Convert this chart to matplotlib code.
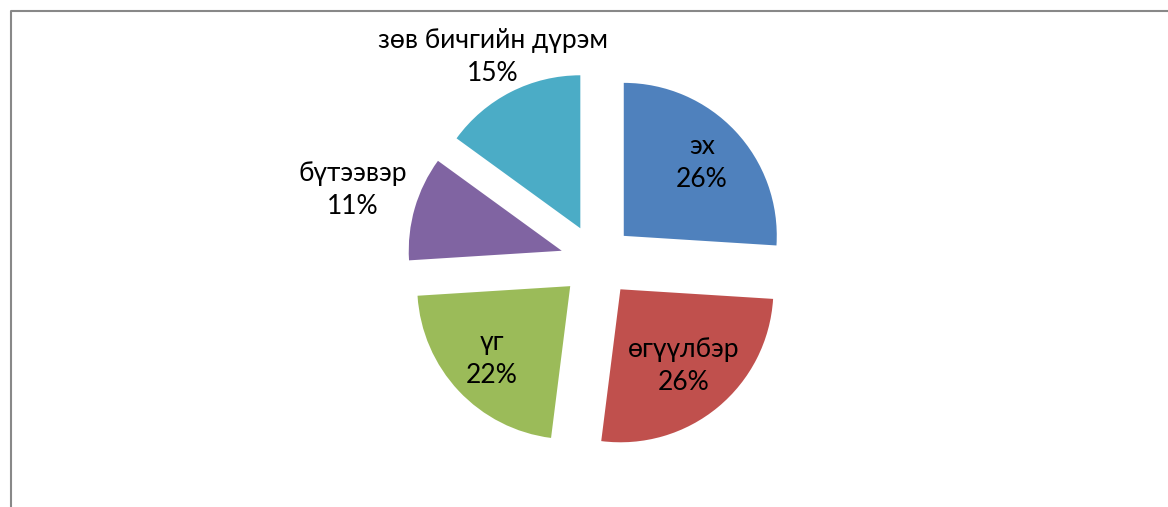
import numpy as np
import matplotlib.pyplot as plt
from matplotlib.lines import Line2D

# Data
categories = ['эх', 'өгүүлбэр', 'үг', 'бүтээвэр', 'зөв бичгийн дүрэм']
shares = [26, 26, 22, 11, 15]
colors = ['#4F81BD', '#C0504D', '#9BBB59', '#8064A2', '#4BACC6']

# label distance from each wedge's own centre, in radii
label_dist = [0.70, 0.65, 0.70, 1.42, 1.26]

W, H = 1168, 507
plt.rcParams['font.family'] = ['Lato', 'Open Sans', 'DejaVu Sans']

fig = plt.figure(figsize=(W / 100, H / 100), dpi=100)
ax = fig.add_axes([0, 0, 1, 1])

radius = 153
wedges, _ = ax.pie(shares, colors=colors, startangle=90, counterclock=False,
                   radius=radius, center=(597, H - 261),
                   explode=[0.24 * radius] * len(shares),
                   wedgeprops=dict(linewidth=0))

for w, name, pct, ld in zip(wedges, categories, shares, label_dist):
    mid = np.deg2rad((w.theta1 + w.theta2) / 2)
    cx, cy = w.center
    ax.text(cx + ld * radius * np.cos(mid), cy + ld * radius * np.sin(mid),
            f'{name}\n{pct}%', ha='center', va='center', fontsize=19,
            linespacing=1.4, color='black')

ax.set_xlim(0, W)
ax.set_ylim(0, H)
ax.set_aspect('auto')
ax.axis('off')

# chart border
fig.add_artist(Line2D([10.5 / W, 10.5 / W, 1], [0, 1 - 10.5 / H, 1 - 10.5 / H],
                      color='#888888', linewidth=1.5, transform=fig.transFigure))

fig.savefig('out.png', dpi=100)
